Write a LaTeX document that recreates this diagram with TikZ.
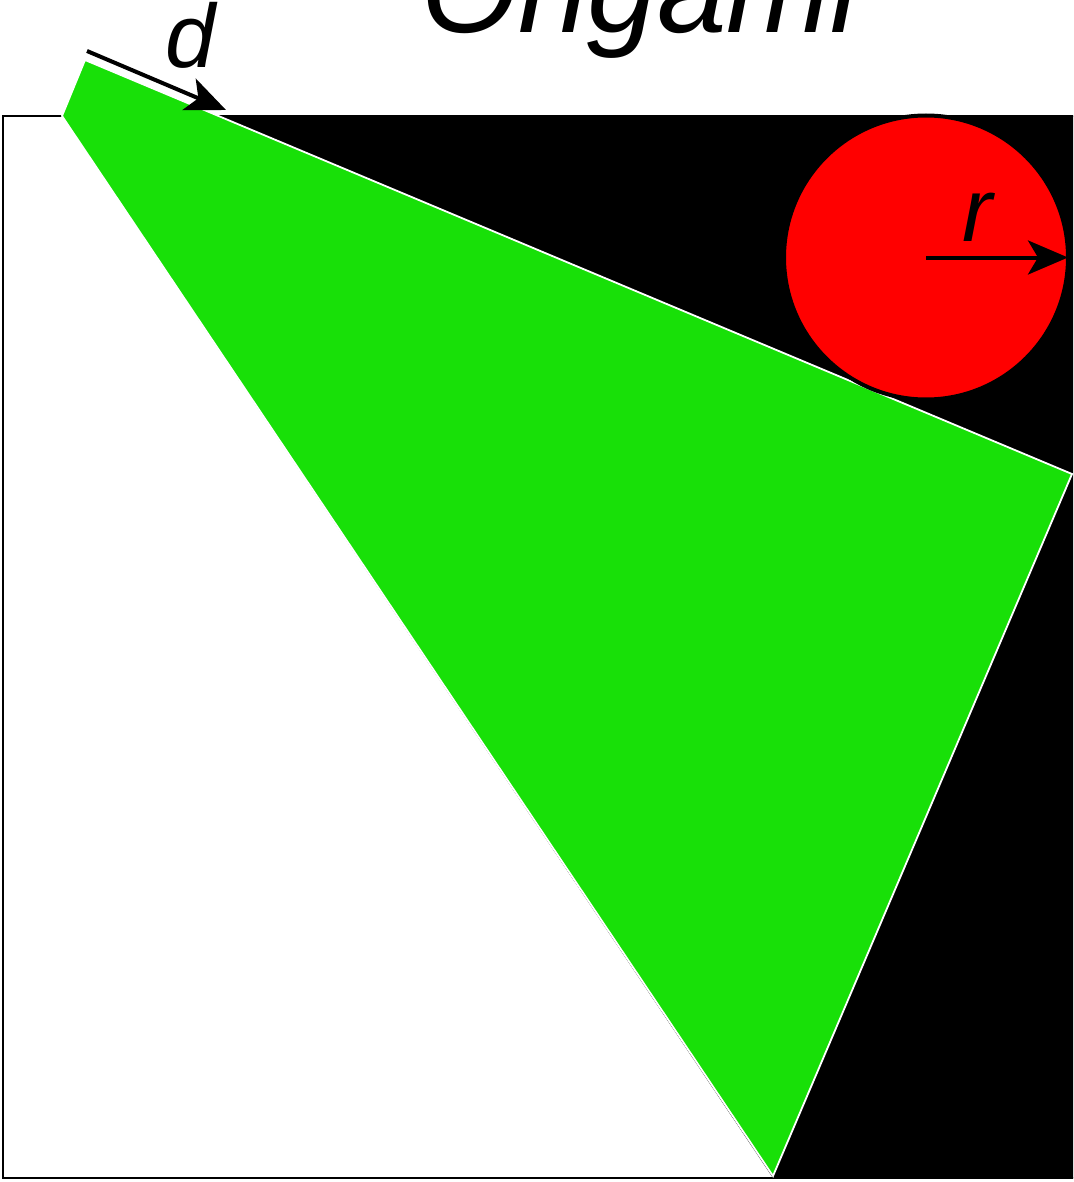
\documentclass[tikz,border=0pt]{standalone}
\usepackage{fontspec}
\setmainfont{Liberation Sans}
\usetikzlibrary{arrows.meta}
\definecolor{foldgreen}{RGB}{24,224,8}
\definecolor{pureRed}{RGB}{255,0,0}
\tikzset{
  arr/.style={line width=4pt, -{Stealth[length=40pt,width=34pt,inset=10pt]}},
  lbl/.style={font=\fontsize{90}{90}\selectfont\itshape, inner sep=0pt, anchor=base},
}
\begin{document}
\begin{tikzpicture}[x=1pt,y=-1pt]
\clip (0,0) rectangle (1073,1182);
% paper square
\draw[line width=2.5pt, fill=white] (3,116) rectangle (1076,1178);
% folded back (black)
\fill[black] (62,116) -- (1076,116) -- (1076,1178) -- (773,1178) -- cycle;
% folded flap (green)
\filldraw[fill=foldgreen, draw=white, line width=1.8pt, line join=miter]
  (62,116) -- (85,60) -- (1072,474) -- (773,1176) -- cycle;
% circle
\node[circle, draw=black, fill=pureRed, line width=4pt, minimum size=284pt,
      inner sep=0pt, outer sep=0pt] (circ) at (926,257.5) {};
\draw[arr] (circ.center) -- (circ.east);
\node[lbl] (rlabel) at (977,242) {r};
% d arrow
\coordinate (d0) at (87,51);
\coordinate (d1) at (226,110);
\draw[arr] (d0) -- (d1);
\node[lbl] (dlabel) at (191,68) {d};
% title
\node[font=\fontsize{125}{125}\selectfont\itshape, inner sep=0pt, anchor=base] (title) at (640,33) {Origami};
\end{tikzpicture}
\end{document}
